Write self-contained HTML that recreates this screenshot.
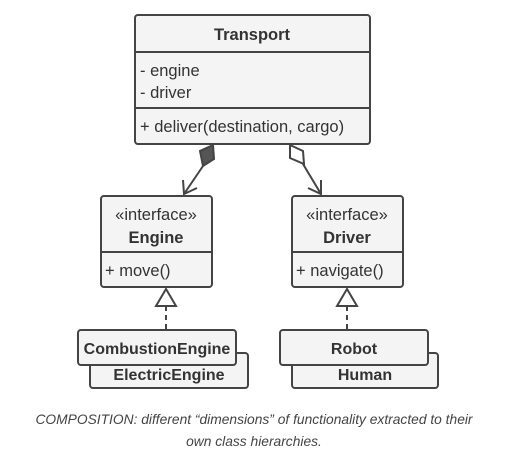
<html><body style="margin:0;background:#fff;width:508px;height:467px;overflow:hidden">
<svg width="508" height="467" xmlns="http://www.w3.org/2000/svg" style="font-family:'Liberation Sans',sans-serif">
<g stroke="#444" stroke-width="2" fill="#f4f4f4">
<rect x="135" y="15" width="235" height="129" rx="3"/>
<line x1="135" y1="52" x2="370" y2="52"/>
<line x1="135" y1="108" x2="370" y2="108"/>
<rect x="101" y="196" width="111" height="91" rx="3"/>
<line x1="101" y1="252" x2="212" y2="252"/>
<rect x="292" y="196" width="111" height="91" rx="3"/>
<line x1="292" y1="252" x2="403" y2="252"/>
<rect x="90" y="353" width="158" height="35" rx="3"/>
<rect x="78" y="330" width="158" height="35" rx="3"/>
<rect x="292" y="353" width="146" height="35" rx="3"/>
<rect x="280" y="330" width="148" height="35" rx="3"/>
<polygon points="156,306 166,289 176,306" fill="#fff"/>
<polygon points="337,306 347,289 357,306" fill="#fff"/>
<line x1="166" y1="306" x2="166" y2="330" stroke-dasharray="5,4"/>
<line x1="347" y1="306" x2="347" y2="330" stroke-dasharray="5,4"/>
<polygon points="213,145 200,151 203,166 214,159" fill="#555"/>
<line x1="203" y1="166" x2="184" y2="194"/>
<polyline points="183,180 184,194 197,188" fill="none"/>
<polygon points="290,145 303,151 304,164 290,158" fill="#fff"/>
<line x1="303" y1="164" x2="321" y2="194"/>
<polyline points="308,188 321,194 321,180" fill="none"/>
</g>
<g fill="#333" font-size="16.5">
<text x="252" y="40" text-anchor="middle" font-weight="bold">Transport</text>
<text x="140" y="76">- engine</text>
<text x="140" y="98">- driver</text>
<text x="140" y="132">+ deliver(destination, cargo)</text>
<text x="156" y="220" text-anchor="middle">«interface»</text>
<text x="156" y="243" text-anchor="middle" font-weight="bold">Engine</text>
<text x="105" y="276">+ move()</text>
<text x="347" y="220" text-anchor="middle">«interface»</text>
<text x="347" y="243" text-anchor="middle" font-weight="bold">Driver</text>
<text x="296" y="276">+ navigate()</text>
<text x="157" y="354" text-anchor="middle" font-weight="bold" font-size="16">CombustionEngine</text>
<text x="169" y="380" text-anchor="middle" font-weight="bold" font-size="16">ElectricEngine</text>
<text x="354" y="354" text-anchor="middle" font-weight="bold" font-size="16">Robot</text>
<text x="365" y="380" text-anchor="middle" font-weight="bold" font-size="16">Human</text>
</g>
<g fill="#444" font-size="13.8" font-style="italic" text-anchor="middle">
<text x="254" y="424">COMPOSITION: different “dimensions” of functionality extracted to their</text>
<text x="254" y="446">own class hierarchies.</text>
</g>
</svg>
</body></html>
